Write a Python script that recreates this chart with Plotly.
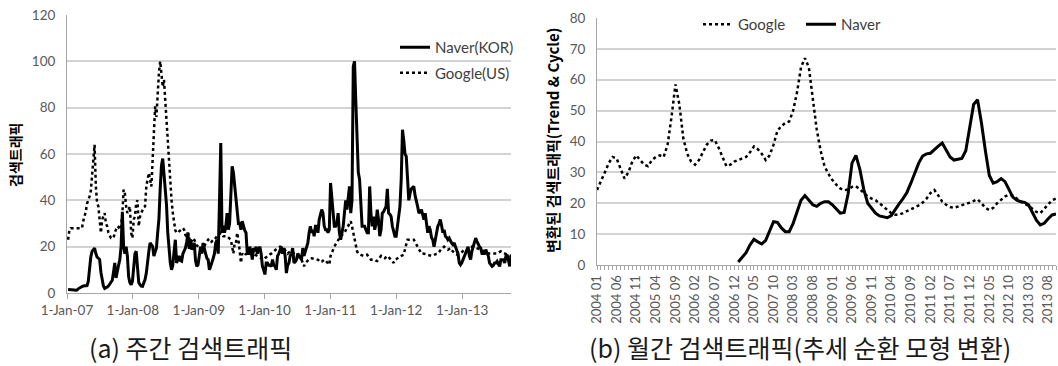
import pandas as pd
import plotly.graph_objects as go

# ---------------- (a) weekly search traffic ----------------
weekly_start = "2007-01-07"
naver_weekly = [
    1.5,1.5,1.6,1.6,1.5,1.3,1.2,1.3,1.8,2.2,
    2.5,2.8,3,3,3,3.2,5,11.5,15.5,18,
    19,19.4,17,15.5,15,14.5,9,5,3,2,
    2.2,2.6,3,3.8,4.3,5.5,9,13,6.5,10,
    12,14.4,20,35,20,17,20,16,7,4.5,
    3.6,5,13,17,18,8.6,4.5,3.6,3,2.9,
    4.5,5.8,8.6,14.4,18,21.6,21,20,16,18,
    19.4,26,32,45,55,58,52,45,38,26,
    17,13,10,12,18,23,13,15,16,14,
    13.7,17,18,19.4,22,26,19,23,18.7,20,
    21.6,14,11.5,12.2,16,20,17,21.6,19,17,
    15,14.4,10,11.5,13,15,17,21.6,23,17,
    40,64.7,26,29,26,28.8,34.5,27.3,30,46,
    54.7,52,46,40,36,30,30,27.3,31,28.8,
    27,26,17,17,20,18,14.4,19.4,18,20,
    17,19,20,17,11.5,10,8,13,13,12,
    12,11.5,14.4,12,11.5,10,16,17,19,20,
    17,19.4,16,8.6,12,13,16,17,19.4,13,
    13.5,14.4,17,16,15,14.4,19.4,16,18,20,
    21.6,26,28.8,26,27.3,24.5,28.8,28.8,26,31.7,
    34,36,34.5,28.8,27.3,27.3,26,27.3,47.5,40,
    33,28.8,28.8,30,34.5,26,23,26,28.8,34.5,
    40,36,43,46,34.5,40,97.8,100,83,69,
    52,49,40,28.8,28.8,28.8,27.3,26,26,46,
    34.5,28.8,33,27.3,30,36,31.7,24.5,27.3,34.5,
    35,36,37.4,45,34.5,34,33,28.8,26,24.5,
    24.5,28.8,33,37.4,49,70.5,66,60,59,50,
    40,43,45,45.5,46,42,40,37.4,34.5,35,
    36,33,31.7,34.5,30,26,28.8,27.3,24,23,
    20,23,26,28.8,30,31.7,29,26,27.3,24.5,
    24,23,23.7,22.3,21.5,20.9,21.6,20,18.5,17,
    13,12.2,13,14.4,16,17,18,20,16,14.4,
    18,20,21.6,23.7,22.3,21,20,19.4,17,17,
    17,18.7,17,16,13,12.2,11.5,12,13,13,
    13.7,12.5,11.5,14.4,14.4,14.4,13,16,16.5,14,
    11.5,16,
]
google_weekly = [
    23,27,28,28,28,28,28,28,28,28,
    28,28,31,33,35,38.5,40,41.7,44,50,
    58,64,46,38.8,37.4,32,26,31.7,33,34.5,
    30,28.8,26,24.5,23.7,23.7,23.7,26,27.3,28.8,
    28.5,27.3,28.8,34,44.6,43,37.4,34.5,36,37.4,
    26,23.7,31.7,33,38.8,40,28.8,33,34.5,36,
    37,37.4,46,49,51.8,49,46,57.5,72,80.6,
    76,86,95,100,93.5,89,92,83,72,62,
    55,49,40,34.5,30,27,26,26,26.6,27.3,
    27.5,28,27.3,25,24.5,26,23,21.6,22.5,23.7,
    23,21.5,20.5,20,19.4,18.7,19,19.5,20,21.5,
    22.5,23,22.3,21.6,22.3,23,23,24,24.5,25,
    25.5,26,25.3,24.5,24.5,24.5,24.5,24,23.5,23,
    20,17,21.6,21.6,26,23,18,13,17,16.5,
    16,17,16,17,18,18.7,18,17,16.5,16.3,
    16,15.5,15.3,15,14.7,14.4,15,15.5,16,16.3,
    16.7,17,17.5,18.3,18.7,19,19.4,19.7,20,19.8,
    19.6,19.4,18.5,17.5,17,17.5,18,17.5,17,17,
    16.5,16.3,16,15.5,14.8,14.4,13,11.5,13,13.5,
    14.4,14.6,15,15,14.8,14.7,14.6,14.5,14.4,14,
    13.3,13.5,14,14.4,14,13.5,13,12.2,16,17.5,
    18.7,20,21,22,23,23.7,24.5,25,25.5,26,
    27,28,28.8,29.5,31,28.8,26,23,20,18,
    17,16.7,16.5,16.3,16,16.2,16.4,16.5,15.8,15,
    14.4,14.4,14.4,14.4,14,13.8,14.5,15.3,16,15.5,
    15.2,15,15.5,16,15.5,15,14.4,13.7,13,14.4,
    14.6,15,15.3,15.7,16,16.2,16.5,19,21.6,23,
    23,23,23,23,23,22,21,20,19,17.5,
    17,17,17,17,16.8,16.5,16.3,16.1,16,16.2,
    16.5,16.7,16.9,17,17.8,18.7,19.1,19.5,20,19.5,
    19,18.7,19,19.4,18.5,17.8,17,16.8,16.6,16.5,
    16.7,17,17.5,18,18.7,18.7,18.7,18.7,19.3,20,
    20,20,20,19.7,19.4,19.2,19,18.7,18.4,18.1,
    18,17.6,17.2,17,17,17,17,17,17,17,
    17,17.4,17.8,18,17.6,17.2,17,16.8,16.5,16.3,
    16.1,16,
]
left_tick_dates = ["2007-01-01","2008-01-01","2009-01-01","2010-01-01",
                   "2011-01-01","2012-01-01","2013-01-01"]
left_tick_text = ["1-Jan-07","1-Jan-08","1-Jan-09","1-Jan-10",
                  "1-Jan-11","1-Jan-12","1-Jan-13"]

# ---------------- (b) monthly trend & cycle ----------------
month_start, month_end = "2004-01", "2013-10"
google_monthly = [
    24.3,27,30,33,35,34.5,31,28,30,33.5,
    35.5,34,32.5,32,34,35,35.5,35,39,48,
    58.5,52,41,36,33.5,32.5,34,36.5,39,40.3,
    40.5,38,35,32,32.5,33.5,34,34.5,35,36.5,
    38.4,37.5,36,34,35.5,39,43.5,45,46,46.5,
    50,56,64,67,64,54,44,37,32,29.5,
    27.5,26,24.8,24.2,24.5,25.3,25.5,24.5,23.2,22.2,
    21.5,21,20,19,17.8,16.8,16.3,16.3,16.8,17.4,
    18,18.6,19.3,20.2,21.5,23.3,24.3,22.5,20.5,19.5,
    18.8,18.5,19,19.5,19.8,20.2,20.8,21.3,20,18.5,
    17.8,18.5,20,21.2,22.2,22.8,22.5,21.5,20.5,19.8,
    19.2,18.2,17.2,16.8,18.3,19.8,21,21.5,
]
naver_first_month = "2007-01"
naver_monthly = [
    1,2.5,4,6.5,8.3,7.5,6.8,8,11,14,
    13.8,12,10.8,10.8,13.5,17.5,21,22.5,21,19.5,
    19,20,20.5,20.5,19.5,18,16.8,17,23,33,
    35.5,31,24.5,20,18.2,16.8,15.9,15.6,15.3,16,
    18,19.8,21.5,23.5,26.5,29.7,33,35.3,36,36.2,
    37.5,38.5,39.5,37,35,34,34.2,34.5,37,45,
    52,53.5,46,37,29,26.5,27,28,27,24.5,
    22,21,20.5,20.3,19.5,17,14.5,13,13.5,15,
    16.2,16.5,
]

# ---------------- build ----------------
weeks = pd.date_range(weekly_start, periods=len(naver_weekly), freq="7D")
months = pd.period_range(month_start, month_end, freq="M")
month_labels = [f"{p.year} {p.month:02d}" for p in months]
month_idx = list(range(len(months)))
naver_off = month_labels.index(naver_first_month.replace("-", " "))
naver_x = month_idx[naver_off:naver_off + len(naver_monthly)]

TICK_FONT = dict(family="Lato, Open Sans, sans-serif", size=13.5, color="#595959")
GRID = "#d3d3d3"
AXIS = "#a6a6a6"

fig = go.Figure()
fig.add_trace(go.Scatter(x=weeks, y=naver_weekly, name="Naver(KOR)", mode="lines",
                         line=dict(color="black", width=3), xaxis="x", yaxis="y",
                         legend="legend", legendgroup="a1"))
fig.add_trace(go.Scatter(x=weeks[:len(google_weekly)], y=google_weekly, name="Google(US)",
                         mode="lines", line=dict(color="black", width=2.5, dash="dot"),
                         xaxis="x", yaxis="y", legend="legend", legendgroup="a2"))
fig.add_trace(go.Scatter(x=month_idx[:len(google_monthly)], y=google_monthly, name="Google",
                         mode="lines", line=dict(color="black", width=2.5, dash="dot"),
                         xaxis="x2", yaxis="y2", legend="legend2"))
fig.add_trace(go.Scatter(x=naver_x, y=naver_monthly, name="Naver", mode="lines",
                         line=dict(color="black", width=3), xaxis="x2", yaxis="y2",
                         legend="legend2"))

W, H = 1058, 366
def px(x): return x / W
def py(y): return (H - y) / H

fig.update_layout(
    width=W, height=H, margin=dict(l=0, r=0, t=0, b=0, autoexpand=False),
    paper_bgcolor="white", plot_bgcolor="white",
    font=dict(family="Lato, Noto Sans CJK KR, sans-serif", color="#404040"),
    xaxis=dict(domain=[px(67), px(511)], anchor="y", type="date",
               range=["2007-01-01", "2013-09-29"],
               tickmode="array", tickvals=left_tick_dates, ticktext=left_tick_text,
               showgrid=False, showline=True, linecolor=AXIS, linewidth=1,
               ticks="outside", ticklen=5, tickcolor=AXIS, tickfont=TICK_FONT,
               zeroline=False, automargin=False),
    yaxis=dict(domain=[py(293), py(15)], anchor="x", range=[0, 120], dtick=20,
               showgrid=True, gridcolor=GRID, gridwidth=1.5, showline=True,
               linecolor=AXIS, linewidth=1, ticks="", tickfont=TICK_FONT,
               zeroline=False, ticklabelstandoff=8, automargin=False),
    xaxis2=dict(domain=[px(597), px(1056)], anchor="y2", range=[0, len(months) - 1],
                tickmode="array", tickvals=month_idx[::5], ticktext=month_labels[::5],
                tickangle=-90, showgrid=False, showline=True, linecolor=AXIS,
                ticks="outside", ticklen=4, tickcolor=AXIS,
                minor=dict(dtick=1, ticks="outside", ticklen=4, tickcolor=AXIS, showgrid=False),
                tickfont=dict(family="Lato, Open Sans, sans-serif", size=13, color="#595959"),
                zeroline=False, automargin=False),
    yaxis2=dict(domain=[py(265), py(18)], anchor="x2", range=[0, 80], dtick=10,
                showgrid=True, gridcolor=GRID, gridwidth=1.5, showline=True,
                linecolor=AXIS, ticks="", tickfont=TICK_FONT, zeroline=False,
                ticklabelstandoff=8, automargin=False),
    legend=dict(x=px(395), y=py(31), xanchor="left", yanchor="top",
                bgcolor="rgba(0,0,0,0)", traceorder="grouped", tracegroupgap=3,
                font=dict(family="Lato, Open Sans, sans-serif", size=15, color="#404040")),
    legend2=dict(x=px(698), y=py(8), xanchor="left", yanchor="top", orientation="h",
                 entrywidth=58, entrywidthmode="pixels",
                 bgcolor="rgba(0,0,0,0)",
                 font=dict(family="Lato, Open Sans, sans-serif", size=15, color="#404040")),
    showlegend=True,
)

fig.add_annotation(text="<b>검색트래픽</b>", xref="paper", yref="paper",
                   x=px(15), y=py(155), xanchor="center", yanchor="middle",
                   textangle=-90, showarrow=False,
                   font=dict(family="Noto Sans CJK KR", size=14, color="black"))
fig.add_annotation(text="<b>변환된 검색트래픽(Trend &amp; Cycle)</b>", xref="paper", yref="paper",
                   x=px(552), y=py(141), xanchor="center", yanchor="middle",
                   textangle=-90, showarrow=False,
                   font=dict(family="Noto Sans CJK KR", size=15, color="black"))
fig.add_annotation(text="(a) 주간 검색트래픽", xref="paper", yref="paper",
                   x=px(190), y=py(347), xanchor="center", yanchor="middle", showarrow=False,
                   font=dict(family="Noto Sans CJK KR", size=25, color="#1a1a1a"))
fig.add_annotation(text="(b) 월간 검색트래픽(추세 순환 모형 변환)", xref="paper", yref="paper",
                   x=px(800), y=py(347), xanchor="center", yanchor="middle", showarrow=False,
                   font=dict(family="Noto Sans CJK KR", size=25, color="#1a1a1a"))

fig.write_html("out.html")
